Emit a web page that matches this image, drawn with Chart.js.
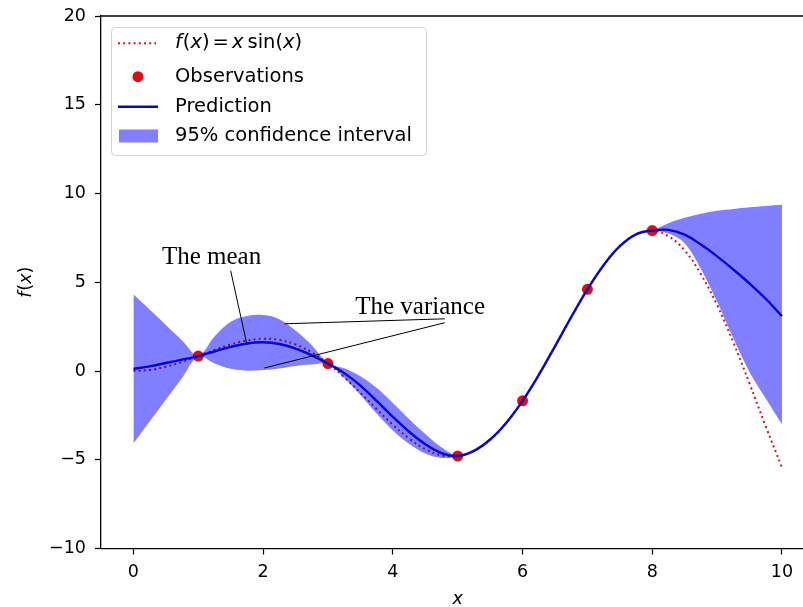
<!DOCTYPE html>
<html>
<head>
<meta charset="utf-8">
<title>Gaussian process regression</title>
<script src="https://cdn.jsdelivr.net/npm/chart.js@4.4.1/dist/chart.umd.min.js"></script>
<style>
  html, body { margin: 0; padding: 0; background: #fff; overflow: hidden; }
  #wrap { width: 820px; height: 607px; }
</style>
</head>
<body>
<div id="wrap"><canvas id="gpChart" width="820" height="607"></canvas></div>
<script>
// sample grid along x
const xGrid = [0, 0.25, 0.5, 0.75, 1, 1.25, 1.5, 1.75, 2, 2.25, 2.5, 2.75, 3, 3.25, 3.5, 3.75,
  4, 4.25, 4.5, 4.75, 5, 5.25, 5.5, 5.75, 6, 6.25, 6.5, 6.75, 7, 7.25, 7.5, 7.75,
  8, 8.25, 8.5, 8.75, 9, 9.25, 9.5, 9.75, 10];

// f(x) = x sin(x), dotted red
const trueCurve = [0, 0.06, 0.24, 0.51, 0.84, 1.19, 1.50, 1.72, 1.82, 1.75, 1.50, 1.05, 0.42,
  -0.35, -1.23, -2.14, -3.03, -3.80, -4.40, -4.75, -4.79, -4.51, -3.88, -2.92, -1.68,
  -0.21, 1.40, 3.04, 4.60, 5.97, 7.04, 7.71, 7.91, 7.59, 6.79, 5.45, 3.71, 1.61, -0.71, -3.12, -5.44];

// observed points
const obsX = [1, 3, 5, 6, 7, 8];
const obsY = [0.84, 0.42, -4.79, -1.68, 4.60, 7.91];

// GP prediction (mean)
const predMean = [0.12, 0.26, 0.45, 0.64, 0.84, 1.10, 1.36, 1.55, 1.62, 1.52, 1.26, 0.88, 0.42,
  -0.12, -0.82, -1.68, -2.58, -3.42, -4.12, -4.62, -4.79, -4.50, -3.86, -2.91, -1.68,
  -0.22, 1.39, 3.03, 4.60, 5.96, 7.03, 7.70, 7.91, 7.95, 7.68, 7.12, 6.46, 5.72, 4.93, 4.07, 3.09];

// 95% confidence band edges
const bandUpper = [4.32, 3.46, 2.59, 1.72, 0.86, 1.95, 2.78, 3.10, 3.15, 2.92, 2.28, 1.45, 0.44,
  0.15, -0.30, -0.95, -1.80, -2.70, -3.55, -4.30, -4.77, -4.44, -3.79, -2.84, -1.66,
  -0.16, 1.45, 3.09, 4.62, 6.01, 7.08, 7.74, 7.93, 8.33, 8.63, 8.86, 9.03, 9.13, 9.22, 9.30, 9.37];
const bandLower = [-4.08, -2.85, -1.62, -0.39, 0.82, 0.42, 0.12, 0.02, 0.05, 0.14, 0.28, 0.36, 0.40,
  -0.40, -1.35, -2.40, -3.35, -4.10, -4.65, -4.90, -4.81, -4.56, -3.93, -2.98, -1.70,
  -0.28, 1.33, 2.97, 4.58, 5.91, 6.98, 7.66, 7.89, 7.75, 7.20, 5.75, 3.90, 1.85, -0.05, -1.55, -3.00];

const xTicks = [0, 2, 4, 6, 8, 10];
const yTicks = [-10, -5, 0, 5, 10, 15, 20];

const BLUE = 'rgb(10,10,185)';
const BAND = 'rgba(0,0,255,0.5)';
const RED = 'rgb(232,10,10)';
const DOT_RED = 'rgb(205,25,25)';
const SANS = '"DejaVu Sans"';

const pts = ys => xGrid.map((x, i) => ({ x: x, y: ys[i] }));
const minus = v => String(v).replace('-', '\u2212');

// text made of upright / italic pieces (mathtext style); a number is extra gap in px
function runsWidth(ctx, runs, size) {
  let w = 0;
  runs.forEach(r => {
    if (typeof r === 'number') { w += r; return; }
    ctx.font = (r[1] ? 'italic ' : '') + size + 'px ' + SANS;
    w += ctx.measureText(r[0]).width;
  });
  return w;
}
function drawRuns(ctx, runs, x, y, size) {
  runs.forEach(r => {
    if (typeof r === 'number') { x += r; return; }
    ctx.font = (r[1] ? 'italic ' : '') + size + 'px ' + SANS;
    ctx.fillText(r[0], x, y);
    x += ctx.measureText(r[0]).width;
  });
}

const fxRuns = [['f', 1], 1, ['(', 0], ['x', 1], [')', 0]];
const legendMath = [['f', 1], 1, ['(', 0], ['x', 1], [')', 0], 3, ['=', 0], 3, ['x', 1], 4,
  ['sin', 0], ['(', 0], ['x', 1], [')', 0]];

const extras = {
  id: 'extras',
  afterDraw(chart) {
    const { ctx, chartArea: a, scales: { x, y } } = chart;
    ctx.save();

    // top and right spines
    ctx.strokeStyle = '#000';
    ctx.lineWidth = 1.3;
    ctx.beginPath();
    ctx.moveTo(a.left, a.top);
    ctx.lineTo(a.right, a.top);
    ctx.lineTo(a.right, a.bottom);
    ctx.stroke();

    // annotations
    ctx.lineWidth = 1;
    const seg = (x0, y0, x1, y1) => {
      ctx.beginPath();
      ctx.moveTo(x.getPixelForValue(x0), y.getPixelForValue(y0));
      ctx.lineTo(x.getPixelForValue(x1), y.getPixelForValue(y1));
      ctx.stroke();
    };
    seg(1.50, 5.64, 1.75, 1.49);
    seg(2.33, 2.66, 4.80, 2.94);
    seg(2.02, 0.17, 4.80, 2.72);
    ctx.fillStyle = '#000';
    ctx.font = '25px "Liberation Serif"';
    ctx.textBaseline = 'alphabetic';
    ctx.textAlign = 'left';
    ctx.fillText('The mean', x.getPixelForValue(0.44), y.getPixelForValue(6.02));
    ctx.fillText('The variance', x.getPixelForValue(3.42), y.getPixelForValue(3.19));

    // axis titles
    ctx.fillStyle = '#000';
    ctx.textBaseline = 'middle';
    ctx.font = 'italic 17.5px ' + SANS;
    ctx.textAlign = 'center';
    ctx.fillText('x', (a.left + a.right) / 2, 599);
    ctx.save();
    ctx.translate(26, (a.top + a.bottom) / 2);
    ctx.rotate(-Math.PI / 2);
    ctx.textAlign = 'left';
    drawRuns(ctx, fxRuns, -runsWidth(ctx, fxRuns, 17.5) / 2, 0, 17.5);
    ctx.restore();

    // legend
    const lx = a.left + 10, ly = a.top + 11, lw = 315, lh = 128;
    ctx.fillStyle = 'rgba(255,255,255,0.8)';
    ctx.strokeStyle = '#d3d3d3';
    ctx.lineWidth = 1;
    ctx.beginPath();
    ctx.roundRect(lx + 0.5, ly + 0.5, lw, lh, 4);
    ctx.fill();
    ctx.stroke();

    const hx = lx + 7, tx = lx + 64;
    const rows = [ly + 16.3, ly + 49.7, ly + 79.7, ly + 109];

    ctx.strokeStyle = DOT_RED;
    ctx.lineWidth = 2;
    ctx.setLineDash([2, 3.2]);
    ctx.beginPath();
    ctx.moveTo(hx, rows[0]);
    ctx.lineTo(hx + 38, rows[0]);
    ctx.stroke();
    ctx.setLineDash([]);

    ctx.fillStyle = RED;
    ctx.beginPath();
    ctx.arc(hx + 20, rows[1], 5.5, 0, Math.PI * 2);
    ctx.fill();

    ctx.strokeStyle = BLUE;
    ctx.lineWidth = 2.4;
    ctx.beginPath();
    ctx.moveTo(hx, rows[2]);
    ctx.lineTo(hx + 40, rows[2]);
    ctx.stroke();

    ctx.fillStyle = BAND;
    ctx.fillRect(hx + 1, rows[3] - 6.5, 39, 13);

    ctx.fillStyle = '#000';
    ctx.textAlign = 'left';
    ctx.textBaseline = 'middle';
    drawRuns(ctx, legendMath, tx, rows[0], 19.5);
    ctx.font = '19.5px ' + SANS;
    ctx.fillText('Observations', tx, rows[1]);
    ctx.fillText('Prediction', tx, rows[2]);
    ctx.fillText('95% confidence interval', tx, rows[3]);

    ctx.restore();
  }
};

const axisCommon = {
  type: 'linear',
  grid: { drawOnChartArea: false, drawTicks: true, tickLength: 6, tickColor: '#000', tickWidth: 1.2 },
  border: { display: true, color: '#000', width: 1.3 },
  ticks: { color: '#000', font: { family: 'DejaVu Sans', size: 17.5, lineHeight: 0.8 }, callback: v => minus(v) }
};

const bandLine = {
  borderColor: 'rgba(0,0,0,0)',
  borderWidth: 0,
  pointRadius: 0,
  tension: 0.35,
  order: 0
};

new Chart(document.getElementById('gpChart'), {
  type: 'line',
  data: {
    datasets: [
      {
        ...bandLine,
        label: '95% confidence interval',
        data: pts(bandUpper),
        backgroundColor: BAND,
        fill: '+1'
      },
      {
        ...bandLine,
        label: 'lower',
        data: pts(bandLower),
        fill: false
      },
      {
        label: 'Prediction',
        data: pts(predMean),
        borderColor: BLUE,
        borderWidth: 2.4,
        pointRadius: 0,
        fill: false,
        tension: 0.4,
        order: 1
      },
      {
        label: 'Observations',
        data: obsX.map((x, i) => ({ x: x, y: obsY[i] })),
        showLine: false,
        pointRadius: 5.5,
        pointBackgroundColor: RED,
        pointBorderWidth: 0,
        order: 2
      },
      {
        label: 'f(x) = x sin(x)',
        data: pts(trueCurve),
        borderColor: DOT_RED,
        borderWidth: 2,
        borderDash: [2, 3.2],
        pointRadius: 0,
        fill: false,
        tension: 0.4,
        order: 3
      }
    ]
  },
  options: {
    responsive: false,
    animation: false,
    layout: { padding: { top: 16, right: 5.6, left: 0, bottom: 0 } },
    plugins: { legend: { display: false }, tooltip: { enabled: false } },
    scales: {
      x: {
        ...axisCommon,
        position: 'bottom',
        min: -0.5,
        max: 10.5,
        ticks: { ...axisCommon.ticks, font: { family: 'DejaVu Sans', size: 17.5 }, padding: 7, maxRotation: 0, includeBounds: false },
        afterBuildTicks: s => { s.ticks = xTicks.map(v => ({ value: v })); },
        afterFit: s => { s.height = 58.5; }
      },
      y: {
        ...axisCommon,
        position: 'left',
        min: -10,
        max: 20,
        ticks: { ...axisCommon.ticks, padding: 9, includeBounds: false },
        afterBuildTicks: s => { s.ticks = yTicks.map(v => ({ value: v })); },
        afterFit: s => { s.width = 101; }
      }
    }
  },
  plugins: [extras]
});
</script>
</body>
</html>
